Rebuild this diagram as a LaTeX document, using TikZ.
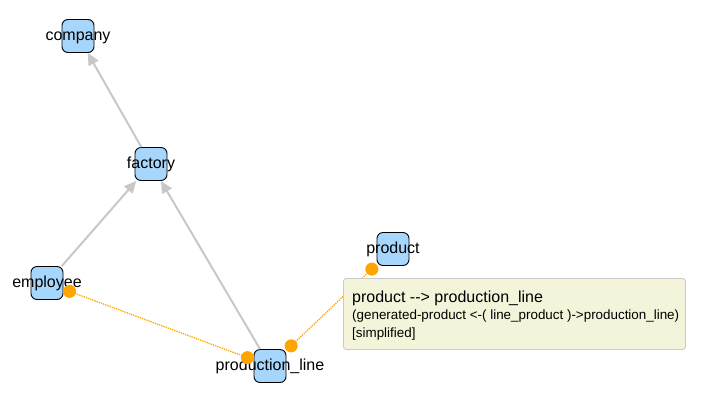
\documentclass[tikz,border=0pt]{standalone}
\usepackage{fontspec}
\setmainfont{Liberation Sans}
\usetikzlibrary{arrows.meta}

\definecolor{boxblue}{HTML}{A6D6FC}
\definecolor{edgegray}{HTML}{C8C8C8}
\definecolor{relorange}{HTML}{FFA500}
\definecolor{tipfill}{HTML}{F4F4DA}
\definecolor{tipborder}{HTML}{CACACA}

\begin{document}
\begin{tikzpicture}[x=1pt, y=-1pt,
  entity/.style={rectangle, rounded corners=6pt, draw=black, line width=0.9pt, fill=boxblue,
    minimum width=32pt, minimum height=33pt, inner sep=0pt},
  entname/.style={font=\fontsize{16}{18}\selectfont, text height=9pt, text depth=0pt, inner sep=0pt},
  isa/.style={draw=edgegray, line width=2pt, -{Triangle[length=12pt,width=11pt]}},
  rel/.style={draw=relorange, line width=1.3pt, densely dotted,
    {Circle[length=13pt]}-{Circle[length=13pt]}},
  tooltip/.style={rectangle, rounded corners=3pt, draw=tipborder, line width=0.9pt, fill=tipfill,
    minimum width=342pt, minimum height=71pt, anchor=north west},
  tiptext/.style={anchor=base west, inner sep=0pt}]

\useasboundingbox (0,0) rectangle (701,400);

% Nodi
\node[entity, label={[entname]center:company}] (company) at (78,36) {};
\node[entity, label={[entname]center:factory}] (factory) at (151,164) {};
\node[entity, label={[entname]center:employee}] (employee) at (47,283) {};
\node[entity, label={[entname]center:production\_line}] (prodline) at (270,366) {};
\node[entity, label={[entname]center:product}] (product) at (393,249) {};

% Archi
\draw[isa] (factory) -- (company);
\draw[isa] (employee) -- (factory);
\draw[isa] (prodline) -- (factory);
\draw[rel] (employee) -- (prodline);
\draw[rel] (prodline) -- (product);

% Tooltip
\node[tooltip] (tip) at (343,278) {};
\node[tiptext, font=\fontsize{16}{18}\selectfont] (tipline1) at (352,302) {product -{}-> production\_line};
\node[tiptext, font=\fontsize{13.4}{16}\selectfont] (tipline2) at (352,319.5) {(generated-product <-( line\_product )->production\_line)};
\node[tiptext, font=\fontsize{13.4}{16}\selectfont] (tipline3) at (352,337) {[simplified]};

\end{tikzpicture}
\end{document}
